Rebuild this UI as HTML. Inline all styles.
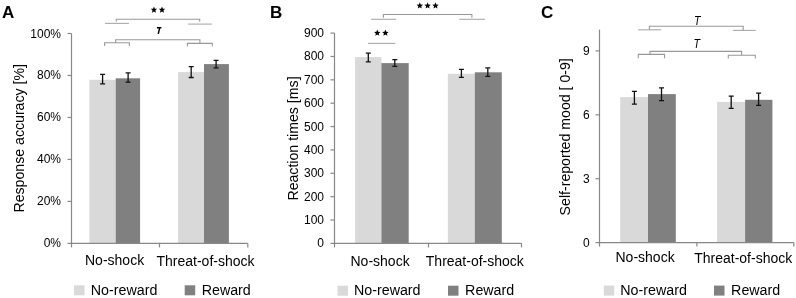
<!DOCTYPE html>
<html><head><meta charset="utf-8"><style>
html,body{margin:0;padding:0;background:#fff;}
svg{display:block;}
text{font-family:"Liberation Sans",sans-serif;fill:#000;}
</style></head><body>
<svg style="will-change:transform" width="796" height="298" viewBox="0 0 796 298">
<rect width="796" height="298" fill="#fff"/>
<rect x="89.4" y="79.8" width="26.30" height="163.60" fill="#d9d9d9"/>
<rect x="115.7" y="78.3" width="24.40" height="165.10" fill="#808080"/>
<rect x="178.1" y="72.1" width="25.90" height="171.30" fill="#d9d9d9"/>
<rect x="204.0" y="64.1" width="24.90" height="179.30" fill="#808080"/>
<path d="M100.10,74.4 H105.10 M102.6,74.4 V83.9 M100.10,83.9 H105.10" stroke="#111" stroke-width="1.3" fill="none"/>
<path d="M125.60,72.9 H130.60 M128.1,72.9 V82.1 M125.60,82.1 H130.60" stroke="#111" stroke-width="1.3" fill="none"/>
<path d="M188.70,66.6 H193.70 M191.2,66.6 V77.5 M188.70,77.5 H193.70" stroke="#111" stroke-width="1.3" fill="none"/>
<path d="M213.60,60.4 H218.60 M216.1,60.4 V67.9 M213.60,67.9 H218.60" stroke="#111" stroke-width="1.3" fill="none"/>
<line x1="71.5" y1="33.5" x2="71.5" y2="247.4" stroke="#888888" stroke-width="1.2"/>
<line x1="71.5" y1="243.4" x2="247.8" y2="243.4" stroke="#888888" stroke-width="1.2"/>
<line x1="159.5" y1="243.4" x2="159.5" y2="247.4" stroke="#888888" stroke-width="1.2"/>
<line x1="247.8" y1="243.4" x2="247.8" y2="247.4" stroke="#888888" stroke-width="1.2"/>
<line x1="67.5" y1="243.4" x2="71.5" y2="243.4" stroke="#888888" stroke-width="1.2"/>
<text x="61" y="247.4" font-size="12" text-anchor="end" >0%</text>
<line x1="67.5" y1="201.42000000000002" x2="71.5" y2="201.42000000000002" stroke="#888888" stroke-width="1.2"/>
<text x="61" y="205.42000000000002" font-size="12" text-anchor="end" >20%</text>
<line x1="67.5" y1="159.44" x2="71.5" y2="159.44" stroke="#888888" stroke-width="1.2"/>
<text x="61" y="163.44" font-size="12" text-anchor="end" >40%</text>
<line x1="67.5" y1="117.46" x2="71.5" y2="117.46" stroke="#888888" stroke-width="1.2"/>
<text x="61" y="121.46" font-size="12" text-anchor="end" >60%</text>
<line x1="67.5" y1="75.47999999999999" x2="71.5" y2="75.47999999999999" stroke="#888888" stroke-width="1.2"/>
<text x="61" y="79.47999999999999" font-size="12" text-anchor="end" >80%</text>
<line x1="67.5" y1="33.5" x2="71.5" y2="33.5" stroke="#888888" stroke-width="1.2"/>
<text x="61" y="37.5" font-size="12" text-anchor="end" >100%</text>
<text transform="translate(24,138.3) rotate(-90)" font-size="14.15" text-anchor="middle">Response accuracy [%]</text>
<text x="85.0" y="264.5" font-size="14" text-anchor="start" >No-shock</text>
<text x="156.5" y="265.6" font-size="14" text-anchor="start" >Threat-of-shock</text>
<rect x="74.0" y="285.3" width="10.50" height="10.00" fill="#d9d9d9"/>
<rect x="184.7" y="285.3" width="10.50" height="10.00" fill="#808080"/>
<text x="90.8" y="294.7" font-size="14.25" text-anchor="start" >No-reward</text>
<text x="201.7" y="294.7" font-size="14.25" text-anchor="start" >Reward</text>
<text x="2" y="18" font-size="17" font-weight="bold">A</text>
<line x1="104.9" y1="23.4" x2="128.9" y2="23.4" stroke="#aaaaaa" stroke-width="1.1"/>
<line x1="188.2" y1="24.1" x2="211.8" y2="24.1" stroke="#aaaaaa" stroke-width="1.1"/>
<path d="M116.3,21.8 V19.3 H199.7 V21.8" fill="none" stroke="#999999" stroke-width="1.1"/>
<polygon points="153.95,6.50 154.85,8.66 157.18,8.85 155.41,10.37 155.95,12.65 153.95,11.43 151.95,12.65 152.49,10.37 150.72,8.85 153.05,8.66" fill="#000"/>
<polygon points="162.00,6.50 162.90,8.66 165.23,8.85 163.46,10.37 164.00,12.65 162.00,11.43 160.00,12.65 160.54,10.37 158.77,8.85 161.10,8.66" fill="#000"/>
<path d="M104.6,46.1 V42.8 H129.4 V46.1" fill="none" stroke="#999999" stroke-width="1.1"/>
<path d="M187.4,46.4 V43.4 H212.3 V46.4" fill="none" stroke="#999999" stroke-width="1.1"/>
<path d="M115.6,42.8 V39.8 H199.9 V43.4" fill="none" stroke="#999999" stroke-width="1.1"/>
<path d="M156.9,27.8 H161.4 M159.6,27.8 L158.3,33.9" stroke="#000" stroke-width="1.45" fill="none"/>
<rect x="355.1" y="57.1" width="26.30" height="186.30" fill="#d9d9d9"/>
<rect x="381.4" y="63.1" width="27.30" height="180.30" fill="#808080"/>
<rect x="447.8" y="73.8" width="27.00" height="169.60" fill="#d9d9d9"/>
<rect x="474.8" y="72.3" width="27.00" height="171.10" fill="#808080"/>
<path d="M365.80,53.2 H370.80 M368.3,53.2 V61.9 M365.80,61.9 H370.80" stroke="#111" stroke-width="1.3" fill="none"/>
<path d="M392.30,59.6 H397.30 M394.8,59.6 V66.3 M392.30,66.3 H397.30" stroke="#111" stroke-width="1.3" fill="none"/>
<path d="M458.90,69.4 H463.90 M461.4,69.4 V77.3 M458.90,77.3 H463.90" stroke="#111" stroke-width="1.3" fill="none"/>
<path d="M485.30,67.9 H490.30 M487.8,67.9 V76.3 M485.30,76.3 H490.30" stroke="#111" stroke-width="1.3" fill="none"/>
<line x1="334.5" y1="33.1" x2="334.5" y2="247.4" stroke="#888888" stroke-width="1.2"/>
<line x1="334.5" y1="243.4" x2="521.5" y2="243.4" stroke="#888888" stroke-width="1.2"/>
<line x1="428.5" y1="243.4" x2="428.5" y2="247.4" stroke="#888888" stroke-width="1.2"/>
<line x1="521.5" y1="243.4" x2="521.5" y2="247.4" stroke="#888888" stroke-width="1.2"/>
<line x1="330.5" y1="243.4" x2="334.5" y2="243.4" stroke="#888888" stroke-width="1.2"/>
<text x="324" y="247.4" font-size="12" text-anchor="end" >0</text>
<line x1="330.5" y1="220.03333333333333" x2="334.5" y2="220.03333333333333" stroke="#888888" stroke-width="1.2"/>
<text x="324" y="224.03333333333333" font-size="12" text-anchor="end" >100</text>
<line x1="330.5" y1="196.66666666666669" x2="334.5" y2="196.66666666666669" stroke="#888888" stroke-width="1.2"/>
<text x="324" y="200.66666666666669" font-size="12" text-anchor="end" >200</text>
<line x1="330.5" y1="173.3" x2="334.5" y2="173.3" stroke="#888888" stroke-width="1.2"/>
<text x="324" y="177.3" font-size="12" text-anchor="end" >300</text>
<line x1="330.5" y1="149.93333333333334" x2="334.5" y2="149.93333333333334" stroke="#888888" stroke-width="1.2"/>
<text x="324" y="153.93333333333334" font-size="12" text-anchor="end" >400</text>
<line x1="330.5" y1="126.56666666666668" x2="334.5" y2="126.56666666666668" stroke="#888888" stroke-width="1.2"/>
<text x="324" y="130.56666666666666" font-size="12" text-anchor="end" >500</text>
<line x1="330.5" y1="103.19999999999999" x2="334.5" y2="103.19999999999999" stroke="#888888" stroke-width="1.2"/>
<text x="324" y="107.19999999999999" font-size="12" text-anchor="end" >600</text>
<line x1="330.5" y1="79.83333333333331" x2="334.5" y2="79.83333333333331" stroke="#888888" stroke-width="1.2"/>
<text x="324" y="83.83333333333331" font-size="12" text-anchor="end" >700</text>
<line x1="330.5" y1="56.46666666666667" x2="334.5" y2="56.46666666666667" stroke="#888888" stroke-width="1.2"/>
<text x="324" y="60.46666666666667" font-size="12" text-anchor="end" >800</text>
<line x1="330.5" y1="33.099999999999994" x2="334.5" y2="33.099999999999994" stroke="#888888" stroke-width="1.2"/>
<text x="324" y="37.099999999999994" font-size="12" text-anchor="end" >900</text>
<text transform="translate(298.2,138.5) rotate(-90)" font-size="14.15" text-anchor="middle">Reaction times [ms]</text>
<text x="350.5" y="265.9" font-size="14" text-anchor="start" >No-shock</text>
<text x="425.8" y="266.4" font-size="14" text-anchor="start" >Threat-of-shock</text>
<rect x="337.5" y="285.7" width="10.50" height="10.00" fill="#d9d9d9"/>
<rect x="448.0" y="285.7" width="10.50" height="10.00" fill="#808080"/>
<text x="354.0" y="294.8" font-size="14.25" text-anchor="start" >No-reward</text>
<text x="465.1" y="294.8" font-size="14.25" text-anchor="start" >Reward</text>
<text x="270" y="18" font-size="17" font-weight="bold">B</text>
<line x1="371.1" y1="19.3" x2="396.2" y2="19.3" stroke="#aaaaaa" stroke-width="1.1"/>
<line x1="459.3" y1="19.3" x2="485" y2="19.3" stroke="#aaaaaa" stroke-width="1.1"/>
<path d="M383.4,17.8 V14.5 H471.9 V17.8" fill="none" stroke="#999999" stroke-width="1.1"/>
<polygon points="419.80,2.30 420.70,4.46 423.03,4.65 421.26,6.17 421.80,8.45 419.80,7.23 417.80,8.45 418.34,6.17 416.57,4.65 418.90,4.46" fill="#000"/>
<polygon points="427.60,2.30 428.50,4.46 430.83,4.65 429.06,6.17 429.60,8.45 427.60,7.23 425.60,8.45 426.14,6.17 424.37,4.65 426.70,4.46" fill="#000"/>
<polygon points="435.50,2.30 436.40,4.46 438.73,4.65 436.96,6.17 437.50,8.45 435.50,7.23 433.50,8.45 434.04,6.17 432.27,4.65 434.60,4.46" fill="#000"/>
<line x1="367.9" y1="43.4" x2="395.3" y2="43.4" stroke="#aaaaaa" stroke-width="1.1"/>
<polygon points="377.30,29.60 378.20,31.76 380.53,31.95 378.76,33.47 379.30,35.75 377.30,34.53 375.30,35.75 375.84,33.47 374.07,31.95 376.40,31.76" fill="#000"/>
<polygon points="385.40,29.60 386.30,31.76 388.63,31.95 386.86,33.47 387.40,35.75 385.40,34.53 383.40,35.75 383.94,33.47 382.17,31.95 384.50,31.76" fill="#000"/>
<rect x="620.2" y="97.1" width="27.80" height="145.50" fill="#d9d9d9"/>
<rect x="648.0" y="94.1" width="27.80" height="148.50" fill="#808080"/>
<rect x="717.1" y="101.9" width="28.00" height="140.70" fill="#d9d9d9"/>
<rect x="745.1" y="99.8" width="27.30" height="142.80" fill="#808080"/>
<path d="M631.90,91.4 H636.90 M634.4,91.4 V104.1 M631.90,104.1 H636.90" stroke="#111" stroke-width="1.3" fill="none"/>
<path d="M659.00,87.8 H664.00 M661.5,87.8 V100.6 M659.00,100.6 H664.00" stroke="#111" stroke-width="1.3" fill="none"/>
<path d="M728.70,96.1 H733.70 M731.2,96.1 V108.4 M728.70,108.4 H733.70" stroke="#111" stroke-width="1.3" fill="none"/>
<path d="M756.10,93.1 H761.10 M758.6,93.1 V105.4 M756.10,105.4 H761.10" stroke="#111" stroke-width="1.3" fill="none"/>
<line x1="599.5" y1="29.600000000000023" x2="599.5" y2="246.6" stroke="#888888" stroke-width="1.2"/>
<line x1="599.5" y1="242.6" x2="793.8" y2="242.6" stroke="#888888" stroke-width="1.2"/>
<line x1="696.9" y1="242.6" x2="696.9" y2="246.6" stroke="#888888" stroke-width="1.2"/>
<line x1="793.8" y1="242.6" x2="793.8" y2="246.6" stroke="#888888" stroke-width="1.2"/>
<line x1="595.5" y1="242.6" x2="599.5" y2="242.6" stroke="#888888" stroke-width="1.2"/>
<text x="589.6" y="246.6" font-size="12" text-anchor="end" >0</text>
<line x1="595.5" y1="178.7" x2="599.5" y2="178.7" stroke="#888888" stroke-width="1.2"/>
<text x="589.6" y="182.7" font-size="12" text-anchor="end" >3</text>
<line x1="595.5" y1="114.80000000000001" x2="599.5" y2="114.80000000000001" stroke="#888888" stroke-width="1.2"/>
<text x="589.6" y="118.80000000000001" font-size="12" text-anchor="end" >6</text>
<line x1="595.5" y1="50.900000000000006" x2="599.5" y2="50.900000000000006" stroke="#888888" stroke-width="1.2"/>
<text x="589.6" y="54.900000000000006" font-size="12" text-anchor="end" >9</text>
<text transform="translate(569.8,136.8) rotate(-90)" font-size="14.15" text-anchor="middle">Self-reported mood [ 0-9]</text>
<text x="615.5" y="262.2" font-size="14" text-anchor="start" >No-shock</text>
<text x="694.2" y="262.9" font-size="14" text-anchor="start" >Threat-of-shock</text>
<rect x="603.8" y="285.6" width="10.50" height="10.00" fill="#d9d9d9"/>
<rect x="714.0" y="285.6" width="10.50" height="10.00" fill="#808080"/>
<text x="620.3" y="294.7" font-size="14.25" text-anchor="start" >No-reward</text>
<text x="731.1" y="294.7" font-size="14.25" text-anchor="start" >Reward</text>
<text x="541" y="18" font-size="17" font-weight="bold">C</text>
<line x1="638.1" y1="29.8" x2="661.2" y2="29.8" stroke="#aaaaaa" stroke-width="1.1"/>
<line x1="732.8" y1="30.4" x2="755.7" y2="30.4" stroke="#aaaaaa" stroke-width="1.1"/>
<path d="M649.4,29.8 V26.3 H743.2 V30.4" fill="none" stroke="#999999" stroke-width="1.1"/>
<path d="M638.3,58.2 V54.4 H664.5 V58.2" fill="none" stroke="#999999" stroke-width="1.1"/>
<path d="M728.3,58.5 V55.2 H755.3 V58.5" fill="none" stroke="#999999" stroke-width="1.1"/>
<path d="M650,54.4 V51.4 H741.6 V55.2" fill="none" stroke="#999999" stroke-width="1.1"/>
<text transform="translate(693.9,24.5) scale(0.85,1)" font-size="12.5" font-style="italic">T</text>
<text transform="translate(693.5,47.6) scale(0.85,1)" font-size="12.5" font-style="italic">T</text>
</svg>
</body></html>
